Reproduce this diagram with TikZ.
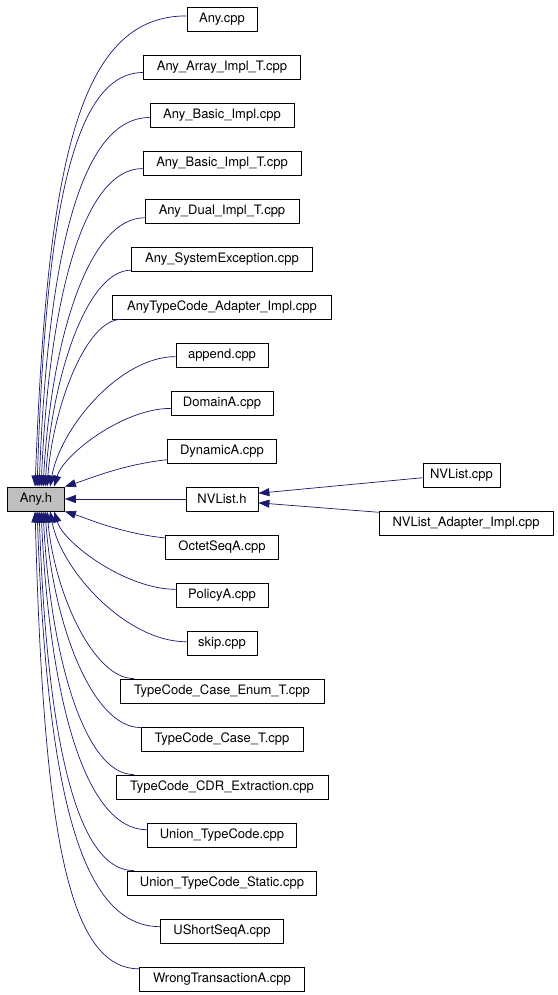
\documentclass[tikz,border=0pt]{standalone}
\usepackage{fontspec}
\setmainfont{TeX Gyre Heros}
\usetikzlibrary{arrows.meta,calc}
\definecolor{edgeblue}{HTML}{191970}
\definecolor{boxgray}{HTML}{BFBFBF}
\tikzset{
  filebox/.style={draw=black, line width=0.8pt, minimum height=24pt, inner sep=0pt, font=\fontsize{13}{15}\selectfont},
  dep/.style={draw=edgeblue, line width=0.7pt, -{Triangle[length=11pt,width=8pt]}}
}
\begin{document}
\begin{tikzpicture}[x=1pt, y=-1pt]
    \useasboundingbox (0,0) rectangle (557,995);

    % Included header
    \node[filebox, fill=boxgray, minimum width=57pt] (anyh) at (36,499) {Any.h};

    % Files including it, one per row
    \foreach \nm/\rw/\w/\txt in {
        anycpp/0/70/Any.cpp,
        arrayimpl/1/157/Any\_Array\_Impl\_T.cpp,
        basicimpl/2/144/Any\_Basic\_Impl.cpp,
        basicimplt/3/158/Any\_Basic\_Impl\_T.cpp,
        dualimpl/4/154/Any\_Dual\_Impl\_T.cpp,
        sysexc/5/181/Any\_SystemException.cpp,
        adapter/6/219/AnyTypeCode\_Adapter\_Impl.cpp,
        append/7/92/append.cpp,
        domaina/8/102/DomainA.cpp,
        dynamica/9/109/DynamicA.cpp,
        nvlisth/10/72/NVList.h,
        octet/11/113/OctetSeqA.cpp,
        policya/12/92/PolicyA.cpp,
        skip/13/70/skip.cpp,
        caseenum/14/204/TypeCode\_Case\_Enum\_T.cpp,
        caset/15/162/TypeCode\_Case\_T.cpp,
        cdr/16/212/TypeCode\_CDR\_Extraction.cpp,
        union/17/149/Union\_TypeCode.cpp,
        unionstatic/18/189/Union\_TypeCode\_Static.cpp,
        ushort/19/123/UShortSeqA.cpp,
        wrongtx/20/165/WrongTransactionA.cpp} {
        \node[filebox, minimum width=\w pt] (\nm) at (222,{19+48*\rw}) {\txt};
    }

    % Files including NVList.h
    \node[filebox, minimum width=77pt] (nvlistcpp) at (461.5,475) {NVList.cpp};
    \node[filebox, minimum width=174pt] (nvadapter) at (466,523) {NVList\_Adapter\_Impl.cpp};

    % Curved edges into the top of Any.h
    \foreach \nm/\ang/\off in {anycpp/175/28, arrayimpl/184/30, basicimpl/182/32, basicimplt/184/34,
        dualimpl/185/36, sysexc/187/38, adapter/187.4/40, append/182/43, domaina/186/47} {
        \draw[dep] let \p1=(\nm.\ang), \p2=($(anyh.north west)+(\off,0)$),
            \n1={0.35+0.00075*abs(\y2-\y1)} in
            (\p1) .. controls ({\x1-\n1*(\x1-\x2)},\y1) and ({\x2+0.08*(\x1-\x2)},{\y2+\n1*(\y1-\y2)}) .. (\p2);
    }

    % Curved edges into the bottom of Any.h
    \foreach \nm/\ang/\off in {policya/173.8/47, skip/178.4/43, caseenum/172.3/40, caset/172.3/38,
        cdr/172.7/36, union/176.2/34, unionstatic/172.8/32, ushort/176.3/30, wrongtx/173.8/28} {
        \draw[dep] let \p1=(\nm.\ang), \p2=($(anyh.south west)+(\off,0)$),
            \n1={0.35+0.00075*abs(\y2-\y1)} in
            (\p1) .. controls ({\x1-\n1*(\x1-\x2)},\y1) and ({\x2+0.08*(\x1-\x2)},{\y2+\n1*(\y1-\y2)}) .. (\p2);
    }

    % Nearly straight edges beside Any.h
    \draw[dep] (dynamica.189.5) .. controls +(-45,5) and +(25,-8) .. (anyh.north east);
    \draw[dep] (octet.171) .. controls +(-45,-5) and +(25,8) .. (anyh.south east);
    \draw[dep] (nvlisth) -- (anyh);

    % NVList.h and its includers
    \draw[dep] (nvlistcpp.184.5) -- (nvlisth.9.5);
    \draw[dep] (nvadapter.173.4) -- (nvlisth.-6.3);
\end{tikzpicture}
\end{document}
